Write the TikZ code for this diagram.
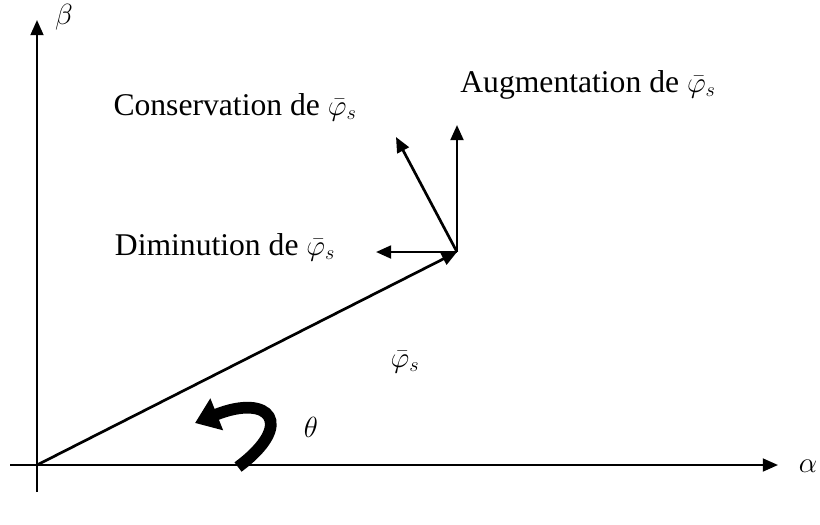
\documentclass[tikz,border=0pt]{standalone}
\usepackage{fontspec}
\setmainfont{Liberation Serif}
\usetikzlibrary{arrows.meta}
\tikzset{
  axis/.style={line width=1.9pt, -{Triangle[length=13pt,width=11pt]}},
  vec/.style={line width=2.3pt, -{Triangle[length=13pt,width=11pt]}},
  lbl/.style={font=\fontsize{27}{32}\selectfont, inner sep=0pt}
}
\begin{document}
\begin{tikzpicture}[x=0.03cm, y=-0.03cm]
	\useasboundingbox (0,0) rectangle (820,524);
	
	% Axes
	\coordinate (O) at (37,465);
	\coordinate (ybot) at (37,492);
	\coordinate (ytop) at (37,20);
	\coordinate (xleft) at (10,465);
	\coordinate (xright) at (778,465);
	\draw[axis] (ybot) -- (ytop);
	\draw[axis] (xleft) -- (xright);
	\node[lbl] (beta) at (64,17) {$\beta$};
	\node[lbl] (alpha) at (808,466) {$\alpha$};
	
	% Flux vector
	\coordinate (P) at (457,252);
	\draw[vec] (O) -- (P);
	\node[lbl] (phis) at (405,362) {$\bar{\varphi}_s$};
	
	% Directions from the tip
	\coordinate (up) at (457,125);
	\coordinate (left) at (376,252);
	\coordinate (diag) at (396,137);
	\draw[vec] (P) -- (up);
	\draw[vec] (P) -- (left);
	\draw[vec] (P) -- (diag);
	\node[lbl] (aug) at (588,85) {Augmentation de $\bar{\varphi}_s$};
	\node[lbl] (cons) at (235,107) {Conservation de $\bar{\varphi}_s$};
	\node[lbl] (dim) at (225,247) {Diminution de $\bar{\varphi}_s$};
	
	% Angle
	\coordinate (t0) at (238,467);
	\coordinate (t1) at (195,423);
	\draw[line width=10pt, -{Triangle[length=20pt,width=28pt]}] (t0) .. controls (296,424) and (270,393) .. (t1);
	\node[lbl] (theta) at (311,427) {$\theta$};
\end{tikzpicture}
\end{document}
